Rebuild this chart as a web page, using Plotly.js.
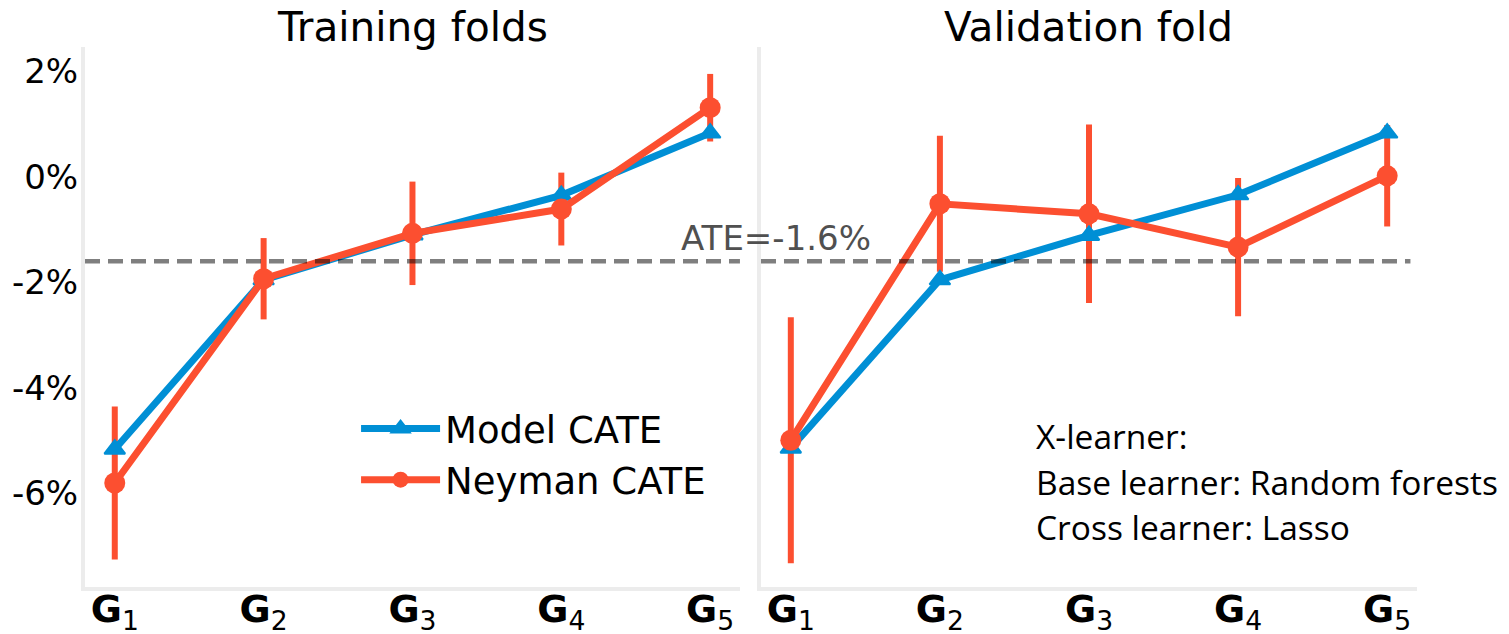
<!DOCTYPE html>
<html>
<head>
<meta charset="utf-8">
<script src="https://cdn.plot.ly/plotly-3.0.1.min.js"></script>
<style>html,body{margin:0;padding:0;background:#fff;} #chart{width:1509px;height:634px;}</style>
</head>
<body>
<div id="chart"></div>
<script>
// ---- data (percent) ----
var groupIndex = [0, 1, 2, 3, 4];
var groupLabels = ['<b>G</b><sub>1</sub>', '<b>G</b><sub>2</sub>', '<b>G</b><sub>3</sub>', '<b>G</b><sub>4</sub>', '<b>G</b><sub>5</sub>'];
var modelTrain = [-5.16, -1.95, -1.10, -0.35, 0.83];
var neymanTrain = [-5.80, -1.93, -1.07, -0.61, 1.31];
var neymanTrainErr = [1.45, 0.77, 0.98, 0.69, 0.64];
var modelVal = [-5.14, -1.95, -1.11, -0.34, 0.83];
var neymanVal = [-4.99, -0.51, -0.70, -1.33, 0.02];
var neymanValErr = [2.33, 1.29, 1.69, 1.31, 0.96];
var ate = -1.6;
var yTickVals = [2, 0, -2, -4, -6];
var yTickText = ['2%', '0%', '-2%', '-4%', '-6%'];
var panelTitles = ['Training folds', 'Validation fold'];
var noteLines = ['X-learner:', 'Base learner: Random forests', 'Cross learner: Lasso'];

var BLUE = '#008fd5', RED = '#fc4f30';
var FONT = 'DejaVu Sans, sans-serif';
var NOTEFONT = 'Open Sans, sans-serif';

function errTrace(y, err, xa, ya) {
  return {x: groupIndex, y: y, xaxis: xa, yaxis: ya, type: 'scatter', mode: 'markers',
    marker: {size: 1, color: 'rgba(0,0,0,0)'}, showlegend: false, hoverinfo: 'skip',
    error_y: {type: 'data', array: err, visible: true, color: RED, thickness: 6, width: 0}};
}
function modelTrace(y, xa, ya, show) {
  return {x: groupIndex, y: y, xaxis: xa, yaxis: ya, type: 'scatter', mode: 'lines+markers',
    name: 'Model CATE', legendgroup: 'm', showlegend: show,
    line: {color: BLUE, width: 7},
    marker: {symbol: 'triangle-up', size: 18, color: BLUE, line: {color: BLUE, width: 2}}};
}
function neymanTrace(y, xa, ya, show) {
  return {x: groupIndex, y: y, xaxis: xa, yaxis: ya, type: 'scatter', mode: 'lines+markers',
    name: 'Neyman CATE', legendgroup: 'n', showlegend: show,
    line: {color: RED, width: 7},
    marker: {symbol: 'circle', size: 21, color: RED}};
}

var data = [
  errTrace(neymanTrain, neymanTrainErr, 'x', 'y'),
  errTrace(neymanVal, neymanValErr, 'x2', 'y2'),
  modelTrace(modelTrain, 'x', 'y', true),
  modelTrace(modelVal, 'x2', 'y2', false),
  neymanTrace(neymanTrain, 'x', 'y', true),
  neymanTrace(neymanVal, 'x2', 'y2', false)
];

var spine = '#ececec';
var xCommon = {
  range: [-0.2, 4.2], tickvals: groupIndex, ticktext: groupLabels,
  showgrid: false, zeroline: false, showline: true, linecolor: spine, linewidth: 4,
  ticks: '', ticklabelstandoff: -15, tickfont: {family: FONT, size: 38, color: '#000'},
  fixedrange: true
};
var yCommon = {
  range: [-7.77, 2.46], tickvals: yTickVals, ticktext: yTickText,
  showgrid: false, zeroline: false, showline: true, linecolor: spine, linewidth: 4,
  ticks: '', tickfont: {family: FONT, size: 34, color: '#000'}, fixedrange: true
};

var layout = {
  width: 1509, height: 634,
  margin: {l: 85, r: 92, t: 47, b: 47},
  paper_bgcolor: '#fff', plot_bgcolor: '#fff',
  font: {family: FONT, color: '#000'},
  showlegend: true,
  xaxis: Object.assign({}, xCommon, {domain: [0, 0.4917], anchor: 'y'}),
  xaxis2: Object.assign({}, xCommon, {domain: [0.5075, 1], anchor: 'y2'}),
  yaxis: Object.assign({}, yCommon, {anchor: 'x', ticklabelstandoff: -4}),
  yaxis2: Object.assign({}, yCommon, {anchor: 'x2', showticklabels: false, matches: 'y'}),
  legend: {x: 0.2035, y: 0.35, xanchor: 'left', yanchor: 'top', bgcolor: 'rgba(0,0,0,0)',
    font: {family: FONT, size: 37, color: '#000'}, itemwidth: 79, tracegroupgap: 5,
    traceorder: 'normal'},
  shapes: [
    {type: 'line', xref: 'x domain', yref: 'y', x0: 0, x1: 1, y0: ate, y1: ate, layer: 'above',
      line: {color: 'rgba(0,0,0,0.5)', width: 4.5, dash: '15px,8px'}},
    {type: 'line', xref: 'x2 domain', yref: 'y2', x0: 0, x1: 0.99, y0: ate, y1: ate, layer: 'above',
      line: {color: 'rgba(0,0,0,0.5)', width: 4.5, dash: '15px,8px'}}
  ],
  annotations: [
    {text: panelTitles[0], xref: 'x domain', yref: 'paper', x: 0.5, y: 1.0372, xanchor: 'center', yanchor: 'middle',
      showarrow: false, font: {family: FONT, size: 40.5, color: '#000'}},
    {text: panelTitles[1], xref: 'x2 domain', yref: 'paper', x: 0.5, y: 1.0372, xanchor: 'center', yanchor: 'middle',
      showarrow: false, font: {family: FONT, size: 40.5, color: '#000'}},
    {text: 'ATE=' + ate.toFixed(1).replace('\u2212', '-') + '%', xref: 'paper', yref: 'paper', x: 0.5191, y: 0.6459,
      xanchor: 'center', yanchor: 'middle', showarrow: false, font: {family: FONT, size: 34, color: '#505050'}},
    {text: noteLines[0], xref: 'paper', yref: 'paper', x: 0.7125, y: 0.2796, xanchor: 'left', yanchor: 'middle',
      showarrow: false, font: {family: NOTEFONT, size: 33.5, color: '#000'}},
    {text: noteLines[1], xref: 'paper', yref: 'paper', x: 0.7125, y: 0.1944, xanchor: 'left', yanchor: 'middle',
      showarrow: false, font: {family: NOTEFONT, size: 33.5, color: '#000'}},
    {text: noteLines[2], xref: 'paper', yref: 'paper', x: 0.7125, y: 0.1111, xanchor: 'left', yanchor: 'middle',
      showarrow: false, font: {family: NOTEFONT, size: 33.5, color: '#000'}}
  ]
};

Plotly.newPlot('chart', data, layout, {displayModeBar: false, staticPlot: true});
</script>
</body>
</html>
